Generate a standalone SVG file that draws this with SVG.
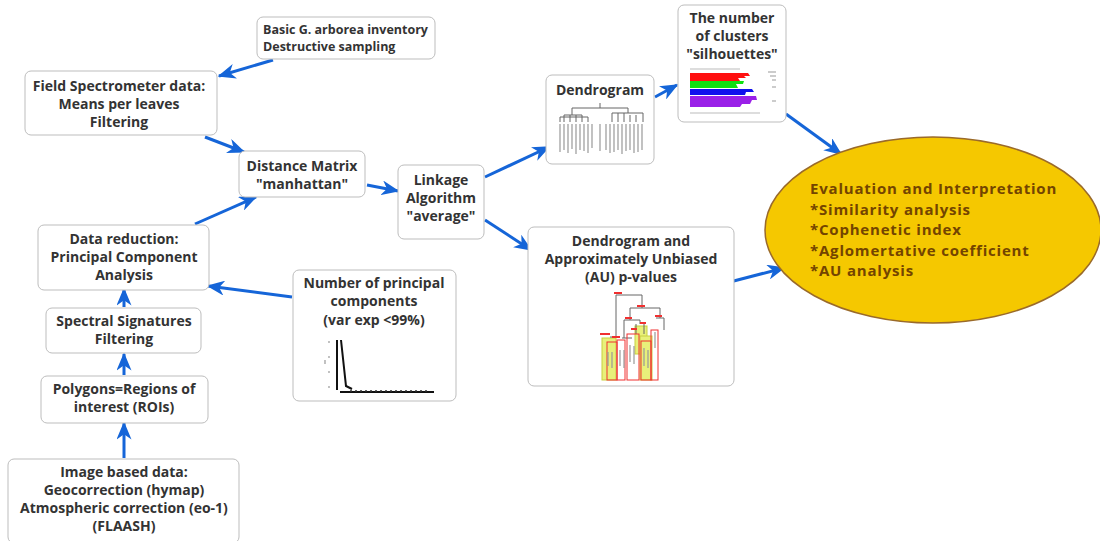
<svg xmlns="http://www.w3.org/2000/svg" width="1100" height="541" viewBox="0 0 1100 541">
<style>
.box{fill:#fff;stroke:#bdbdbd;stroke-width:1}
.t{font-family:"Open Sans","DejaVu Sans",sans-serif;font-weight:bold;font-size:14px;fill:#333;text-anchor:middle}
.tl{text-anchor:start;font-size:12.5px}
.e{font-family:"Open Sans","DejaVu Sans",sans-serif;font-weight:bold;font-size:15px;letter-spacing:0.8px;fill:#734400}
.c{stroke:#1565d8;stroke-width:3;fill:none;marker-end:url(#ah)}
.g{stroke:#666;stroke-width:1;fill:none}
.lab{stroke:#999;stroke-width:1.2;fill:none}
</style>
<defs>
<marker id="ah" viewBox="0 0 12 10" refX="11" refY="5" markerWidth="6" markerHeight="5" orient="auto" markerUnits="strokeWidth">
<path d="M0,0 L12,5 L0,10 L3.5,5 z" fill="#1565d8"/>
</marker>
</defs>
<rect width="1100" height="541" fill="#fff"/>

<g id="connectors">
<line class="c" x1="273" y1="60" x2="219" y2="76"/>
<line class="c" x1="205" y1="137" x2="244" y2="152"/>
<line class="c" x1="195" y1="224" x2="256" y2="197"/>
<line class="c" x1="367" y1="185" x2="398" y2="191"/>
<line class="c" x1="485" y1="177" x2="549" y2="147"/>
<line class="c" x1="485" y1="220" x2="531" y2="250"/>
<line class="c" x1="655" y1="97" x2="677" y2="85"/>
<line class="c" x1="786" y1="114" x2="841" y2="154"/>
<line class="c" x1="726" y1="283" x2="784" y2="268"/>
<line class="c" x1="292" y1="297" x2="208" y2="286"/>
<line class="c" x1="124" y1="307" x2="124" y2="289"/>
<line class="c" x1="124" y1="375" x2="124" y2="354"/>
<line class="c" x1="124" y1="458" x2="124" y2="423"/>
</g>

<g id="basic">
<rect class="box" x="257" y="17" width="178" height="42" rx="6"/>
<text class="t tl" x="263" y="34">Basic G. arborea inventory</text>
<text class="t tl" x="263" y="51">Destructive sampling</text>
</g>

<g id="field">
<rect class="box" x="25" y="71" width="192" height="64" rx="6"/>
<text class="t" x="119" y="91">Field Spectrometer data:</text>
<text class="t" x="119" y="109">Means per leaves</text>
<text class="t" x="119" y="127">Filtering</text>
</g>

<g id="distance">
<rect class="box" x="239" y="151" width="126" height="46" rx="6"/>
<text class="t" x="302" y="171">Distance Matrix</text>
<text class="t" x="302" y="189">"manhattan"</text>
</g>

<g id="linkage">
<rect class="box" x="398" y="165" width="86" height="74" rx="6"/>
<text class="t" x="441" y="185">Linkage</text>
<text class="t" x="441" y="203">Algorithm</text>
<text class="t" x="441" y="221">"average"</text>
</g>

<g id="dendrogram">
<rect class="box" x="546" y="75" width="108" height="89" rx="6"/>
<text class="t" x="600" y="95">Dendrogram</text>
<path class="g" d="M600,103 V108 M572,108 H628 M572,108 V115 M628,108 V113 M564,115 H582 M564,115 V122 M570,115 V122 M576,115 V122 M582,115 V122 M588,117 V122 M612,113 H643 M612,113 V122 M618,113 V122 M624,113 V122 M630,115 V122 M636,115 V122 M643,113 V122 M588,117 H560 M560,117 V122"/>
<path class="lab" d="M560,124 V152 M564,124 V150 M568,124 V153 M572,124 V149 M576,124 V154 M580,124 V150 M584,124 V151 M588,124 V153 M592,124 V148 M600,124 V151 M606,124 V150 M610,124 V153 M614,124 V152 M618,124 V150 M622,124 V154 M626,124 V151 M630,124 V150 M634,124 V153 M638,124 V152 M642,124 V150"/>
</g>

<g id="clusters">
<rect class="box" x="678" y="5" width="108" height="117" rx="6"/>
<text class="t" x="732" y="23">The number</text>
<text class="t" x="732" y="41">of clusters</text>
<text class="t" x="732" y="59">"silhouettes"</text>
<line x1="690" y1="69" x2="740" y2="69" stroke="#bbb" stroke-width="1"/>
<path d="M690,73 H748 L750,76 H744 L746,78 H738 L740,81 H690 Z" fill="#ff1010"/>
<path d="M690,81 H744 L743,84 H736 L738,88 H690 Z" fill="#10e010"/>
<path d="M690,89 H752 L754,92 H746 L745,95 H690 Z" fill="#1010ee"/>
<path d="M690,96 H756 L757,100 H752 L750,104 H742 L740,107 H690 Z" fill="#9a20e8"/>
<line x1="690" y1="113" x2="760" y2="113" stroke="#bbb" stroke-width="1"/>
<path class="lab" d="M768,72 H776 M770,76 H776 M772,80 H776 M772,87 H776 M772,101 H776"/>
</g>

<g id="au">
<rect class="box" x="528" y="227" width="206" height="159" rx="6"/>
<text class="t" x="631" y="246">Dendrogram and</text>
<text class="t" x="631" y="264">Approximately Unbiased</text>
<text class="t" x="631" y="282">(AU) p-values</text>
<rect x="602" y="338" width="14" height="42" fill="#e8f07a" stroke="#c8d040"/>
<rect x="635" y="326" width="12" height="28" fill="#e8f07a" stroke="#c8d040"/>
<rect x="640" y="336" width="12" height="44" fill="#e8f07a" stroke="#c8d040"/>
<path class="g" d="M616,295 H642 M616,295 V337 M642,295 V308 M630,308 H660 M630,308 V320 M660,308 V318 M624,320 H640 M624,320 V338 M640,320 V324 M656,318 H664 M664,318 V330 M636,324 V334 M644,324 V334 M610,337 H618 M622,338 H632"/>
<g fill="none" stroke="#f03030" stroke-width="1">
<rect x="607" y="342" width="10" height="38"/>
<rect x="617" y="340" width="8" height="40"/>
<rect x="627" y="334" width="12" height="46"/>
<rect x="641" y="341" width="10" height="39"/>
<rect x="651" y="330" width="7" height="50"/>
</g>
<g fill="#f03030">
<rect x="614" y="292" width="8" height="2"/>
<rect x="637" y="305" width="8" height="2"/>
<rect x="655" y="315" width="7" height="2"/>
<rect x="625" y="317" width="7" height="2"/>
<rect x="640" y="322" width="6" height="2"/>
<rect x="631" y="328" width="6" height="2"/>
<rect x="600" y="333" width="10" height="2"/>
<rect x="612" y="336" width="8" height="2"/>
</g>
<path class="lab" d="M608,352 V366 M612,352 V368 M620,350 V366 M624,350 V368 M630,345 V362 M634,346 V364 M644,348 V366 M648,350 V368 M655,332 V348"/>
</g>

<g id="npc">
<rect class="box" x="293" y="270" width="163" height="131" rx="6"/>
<text class="t" x="374" y="288">Number of principal</text>
<text class="t" x="374" y="306">components</text>
<text class="t" x="374" y="325">(var exp &lt;99%)</text>
<path d="M337,340 V390 M341,340 L346,386 L352,389 M340,392 H434" stroke="#111" stroke-width="2" fill="none"/>
<path d="M350,391 H430" stroke="#333" stroke-width="1.5" stroke-dasharray="2,3" fill="none"/>
<path class="lab" d="M329,341 V343 M329,356 V358 M329,371 V373 M329,386 V388 M325,360 V364"/>
</g>

<g id="datared">
<rect class="box" x="38" y="225" width="171" height="65" rx="6"/>
<text class="t" x="124" y="244">Data reduction:</text>
<text class="t" x="124" y="262">Principal Component</text>
<text class="t" x="124" y="280">Analysis</text>
</g>

<g id="spectral">
<rect class="box" x="46" y="308" width="155" height="45" rx="6"/>
<text class="t" x="124" y="326">Spectral Signatures</text>
<text class="t" x="124" y="344">Filtering</text>
</g>

<g id="polygons">
<rect class="box" x="41" y="376" width="167" height="47" rx="6"/>
<text class="t" x="124" y="394">Polygons=Regions of</text>
<text class="t" x="124" y="412">interest (ROIs)</text>
</g>

<g id="image">
<rect class="box" x="8" y="459" width="231" height="84" rx="6"/>
<text class="t" x="124" y="477">Image based data:</text>
<text class="t" x="124" y="495">Geocorrection (hymap)</text>
<text class="t" x="124" y="513">Atmospheric correction (eo-1)</text>
<text class="t" x="124" y="531">(FLAASH)</text>
</g>

<g id="evaluation">
<ellipse cx="933" cy="230" rx="168" ry="93" fill="#f5c800" stroke="#9a6a2a" stroke-width="1.5"/>
<text class="e" x="810" y="194">Evaluation and Interpretation</text>
<text class="e" x="810" y="214.5">*Similarity analysis</text>
<text class="e" x="810" y="235">*Cophenetic index</text>
<text class="e" x="810" y="255.5">*Aglomertative coefficient</text>
<text class="e" x="810" y="276">*AU analysis</text>
</g>
</svg>
